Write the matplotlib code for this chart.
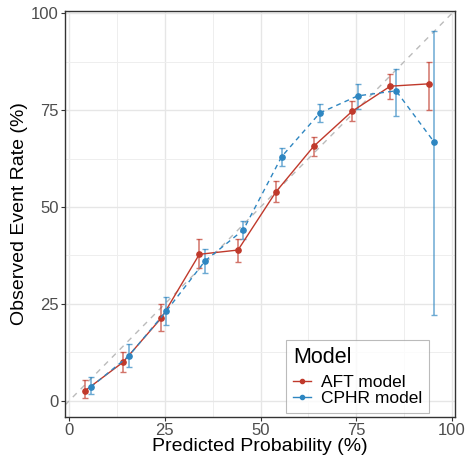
import matplotlib
matplotlib.use("Agg")
import matplotlib.pyplot as plt
from matplotlib.lines import Line2D

plt.rcParams['font.family'] = ['Liberation Sans', 'DejaVu Sans']

# calibration values (percent)
aft_pred = [4.0, 14.0, 24.1, 34.0, 44.1, 54.0, 63.9, 73.9, 83.9, 94.0]
aft_obs = [2.5, 9.9, 21.4, 37.8, 38.9, 53.9, 65.7, 74.7, 81.2, 81.8]
aft_lo = [0.8, 7.4, 18.0, 34.2, 35.9, 51.3, 63.2, 72.1, 77.8, 75.0]
aft_hi = [5.3, 12.5, 25.0, 41.7, 41.8, 56.6, 68.1, 77.3, 84.3, 87.4]

cphr_pred = [5.6, 15.5, 25.4, 35.5, 45.5, 55.5, 65.5, 75.4, 85.4, 95.4]
cphr_obs = [3.5, 11.5, 23.2, 36.1, 44.1, 63.0, 74.3, 78.7, 80.0, 66.7]
cphr_lo = [1.7, 8.7, 19.6, 32.9, 41.8, 60.7, 71.9, 75.3, 73.5, 22.1]
cphr_hi = [6.0, 14.6, 26.8, 39.2, 46.5, 65.2, 76.5, 81.8, 85.6, 95.4]

model_names = ["AFT model", "CPHR model"]
red = "#C0392B"
blue = "#2E86C1"

fig = plt.figure(figsize=(4.65, 4.57), dpi=100)
ax = fig.add_axes([0.1398, 0.0875, 0.8387, 0.8884])

# reference diagonal
ax.axline((0, 0), (100, 100), color="#BBBBBB", lw=1.0, ls=(0, (4, 4)), zorder=1)

def draw(pred, obs, lo, hi, color, ls):
    yerr = [[o - l for o, l in zip(obs, lo)], [h - o for o, h in zip(obs, hi)]]
    ax.errorbar(pred, obs, yerr=yerr, fmt="none", ecolor=color, elinewidth=1.1,
                capsize=2.3, capthick=1.0, alpha=0.7, zorder=2)
    ax.plot(pred, obs, color=color, lw=1.0, ls=ls, marker="o", markersize=3.8,
            zorder=3)

draw(aft_pred, aft_obs, aft_lo, aft_hi, red, "-")
draw(cphr_pred, cphr_obs, cphr_lo, cphr_hi, blue, (0, (3.5, 3)))

ax.set_xlim(-1.1, 100.8)
ax.set_ylim(-4.2, 100.6)
ax.set_xticks([0, 25, 50, 75, 100])
ax.set_yticks([0, 25, 50, 75, 100])
ax.set_xticks([12.5, 37.5, 62.5, 87.5], minor=True)
ax.set_yticks([12.5, 37.5, 62.5, 87.5], minor=True)
ax.grid(True, which="major", color="#E6E6E6", lw=1.0)
ax.grid(True, which="minor", color="#EEEEEE", lw=0.7)
ax.set_axisbelow(True)
ax.tick_params(which="major", length=3, width=0.8, color="#333333",
               labelsize=12, labelcolor="#4D4D4D", pad=1.5)
ax.tick_params(which="minor", length=0)
for s in ax.spines.values():
    s.set_color("#333333")
    s.set_linewidth(1.0)

ax.set_xlabel("Predicted Probability (%)", fontsize=14, labelpad=0)
ax.set_ylabel("Observed Event Rate (%)", fontsize=14, labelpad=2)

handles = [Line2D([], [], color=red, marker="o", markersize=3, lw=1.0),
           Line2D([], [], color=blue, marker="o", markersize=3, lw=1.0)]
leg = ax.legend(handles, model_names, title="Model", loc="lower right",
                bbox_to_anchor=(0.934, 0.01), fontsize=12.5, title_fontsize=15.5,
                frameon=True, fancybox=False, edgecolor="#AAAAAA",
                handlelength=1.0, handletextpad=0.6, labelspacing=0.05,
                borderpad=0.4, borderaxespad=0.0)
leg._legend_box.align = "left"
leg._legend_box.sep = 5
leg.get_frame().set_linewidth(0.8)

fig.savefig("out.png", dpi=100)
